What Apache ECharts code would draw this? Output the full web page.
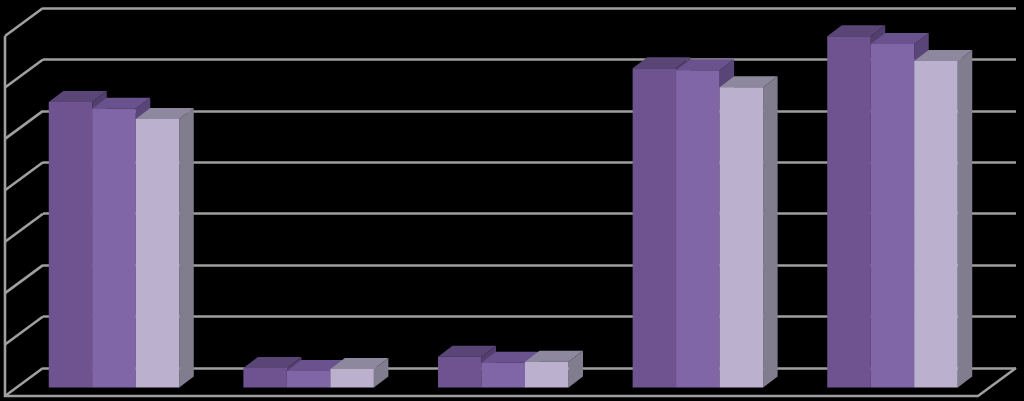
<!DOCTYPE html>
<html><head><meta charset="utf-8">
<style>html,body{margin:0;padding:0;background:#000}#c{width:1024px;height:401px}</style>
<script src="https://cdn.jsdelivr.net/npm/echarts@6/dist/echarts.min.js"></script>
</head><body><div id="c"></div>
<script>
const categories = ['A','B','C','D','E'];
const seriesA = [55.5, 3.8, 6.0, 62.1, 68.3];
const seriesB = [54.2, 3.2, 4.8, 61.7, 66.8];
const seriesC = [52.2, 3.6, 5.0, 58.4, 63.5];
const ticks = [0,10,20,30,40,50,60,70];

const BAR_W = 43.5, DX = 14.5, DY = -11, WALL_DX = -38, WALL_DY = 28, LINE = '#9f9f9f', LINE_W = 2.6;
const palette = [
  {front:'#6e5390', top:'#5a4577', side:'#523f6d'},
  {front:'#8066a6', top:'#6a528e', side:'#5a4578'},
  {front:'#bbb0cd', top:'#8d889e', side:'#827c8f'}
];
const allSeries = [seriesA,seriesB,seriesC];
function depth(idx){
  return {
    type:'custom', xAxisIndex:1, yAxisIndex:1, z:2, silent:true, clip:false,
    encode:{x:0,y:1},
    data: allSeries[idx].map((v,i)=>[i,v]),
    renderItem:(p,api)=>{
      const c = api.coord([api.value(0), api.value(1)]);
      const base = api.coord([api.value(0), 0]);
      const l = c[0] + (idx-1.5)*BAR_W, r = l + BAR_W, t = c[1], b = base[1];
      return {type:'group',children:[
        {type:'polygon',shape:{points:[[r,b],[r+DX,b+DY],[r+DX,t+DY],[r,t]]},style:{fill:palette[idx].side}},
        {type:'polygon',shape:{points:[[l,t],[l+DX,t+DY],[r+DX,t+DY],[r,t]]},style:{fill:palette[idx].top}}
      ]};
    }
  };
}
function front(idx){
  return {type:'bar',xAxisIndex:1,yAxisIndex:1,z:3,silent:true,barWidth:BAR_W,barGap:0,
    data:allSeries[idx],itemStyle:{color:palette[idx].front}};
}
const chart = echarts.init(document.getElementById('c'),null,{renderer:'canvas'});
chart.setOption({
  animation:false, backgroundColor:'#000',
  grid:[
    {left:43,right:8,top:8,bottom:33},
    {left:16.7,right:34.2,top:27.5,bottom:13.5}
  ],
  xAxis:[
    {type:'value',gridIndex:0,min:0,max:1,show:false},
    {type:'category',gridIndex:1,data:categories,show:false}
  ],
  yAxis:[
    {type:'value',gridIndex:0,min:0,max:70,interval:10,axisLine:{show:false},axisTick:{show:false},axisLabel:{show:false},
      splitLine:{show:true,lineStyle:{color:LINE,width:LINE_W}}},
    {type:'value',gridIndex:1,min:0,max:70,interval:10,axisLine:{show:false},axisTick:{show:false},axisLabel:{show:false},splitLine:{show:false}}
  ],
  series:[
    {type:'custom',xAxisIndex:0,yAxisIndex:0,z:1,silent:true,clip:false,encode:{x:0,y:1},data:ticks.map(v=>[0,v]),
      renderItem:(p,api)=>{
        const v = api.value(1);
        const c = api.coord([0,v]);
        const kids = [{type:'line',shape:{x1:c[0],y1:c[1],x2:c[0]+WALL_DX,y2:c[1]+WALL_DY},style:{stroke:LINE,lineWidth:LINE_W}}];
        if(v===0){
          const e = api.coord([1,0]);
          const top = api.coord([0,70]);
          kids.push({type:'polyline',shape:{points:[
            [top[0]+WALL_DX,top[1]+WALL_DY],[c[0]+WALL_DX,c[1]+WALL_DY],[e[0]+WALL_DX,e[1]+WALL_DY],[e[0],e[1]]]},
            style:{stroke:LINE,lineWidth:LINE_W,fill:null}});
        }
        return {type:'group',children:kids};
      }},
    depth(0),depth(1),depth(2),
    front(0),front(1),front(2)
  ]
});
</script></body></html>
